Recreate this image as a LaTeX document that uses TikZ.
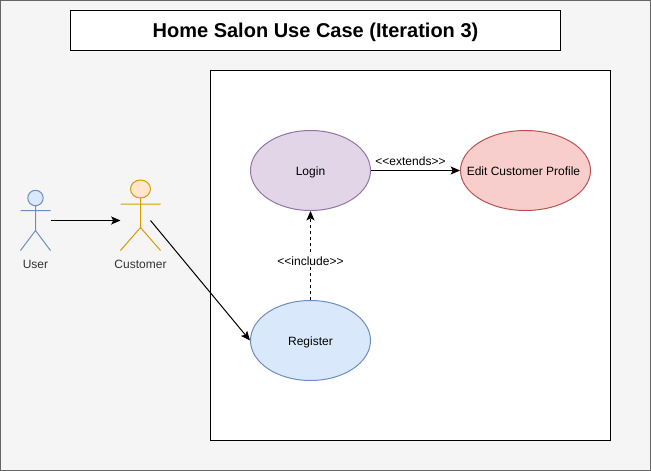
\documentclass[tikz,border=0pt]{standalone}
\usepackage{fontspec}
\setmainfont{Liberation Sans}
\usetikzlibrary{arrows.meta,shapes.geometric}
\definecolor{bgc}{HTML}{F5F5F5}
\definecolor{bgl}{HTML}{666666}
\definecolor{purpF}{HTML}{E1D5E7}
\definecolor{purpL}{HTML}{9673A6}
\definecolor{redF}{HTML}{F8CECC}
\definecolor{redL}{HTML}{B85450}
\definecolor{blueF}{HTML}{DAE8FC}
\definecolor{blueL}{HTML}{6C8EBF}
\definecolor{orF}{HTML}{FFE6CC}
\definecolor{orL}{HTML}{D79B00}
\definecolor{txt}{HTML}{333333}
\newcommand{\uctext}[2][-3.4pt]{\raisebox{#1}[0pt][0pt]{\makebox[0pt]{#2}}}
\tikzset{x=0.75pt,y=-0.75pt,
 uc/.style={ellipse,draw,minimum width=90pt,minimum height=60pt,inner sep=0pt,line width=0.75pt,font=\fontsize{9}{11}\selectfont},
 frame/.style={draw=black,fill=white,line width=0.75pt,inner sep=0pt},
 lbl/.style={font=\fontsize{9}{11}\selectfont,inner sep=1pt},
 actorlbl/.style={font=\fontsize{9}{11}\selectfont,text=txt,inner sep=0pt},
 conn/.style={-{Stealth[length=7pt,width=6pt,inset=1.5pt]},line width=0.75pt,black},
 actorline/.style={line width=0.75pt}}
\begin{document}
\begin{tikzpicture}
\useasboundingbox (0,0) rectangle (651,471);
\draw[fill=bgc,draw=bgl,line width=0.75pt] (0.5,0.5) rectangle (650.5,470.5);
\node[frame,minimum width=367.5pt,minimum height=30pt,font=\bfseries\fontsize{15}{18}\selectfont] (title) at (315.5,30.5) {\uctext[-5.3pt]{Home Salon Use Case (Iteration 3)}};
\node[frame,minimum width=300pt,minimum height=277.5pt] (sys) at (410.5,255.5) {};
\node[uc,draw=purpL,fill=purpF] (login) at (310.5,170.5) {\uctext{Login}};
\node[uc,draw=redL,fill=redF,minimum width=97.5pt] (edit) at (525.5,170.5) {\uctext{\hspace{-3pt}Edit Customer Profile}};
\node[uc,draw=blueL,fill=blueF] (register) at (310.5,340.5) {\uctext{Register}};
% User actor
\draw[actorline,draw=blueL,fill=blueF] (35.5,198) circle[radius=7.7];
\draw[actorline,draw=blueL] (35.5,205.7) -- (35.5,230.5) (20.5,210.5) -- (50.5,210.5) (20.5,250.5) -- (35.5,230.5) -- (50.5,250.5);
\node[actorlbl] (userlabel) at (35.5,264) {User};
% Customer actor
\draw[actorline,draw=orL,fill=orF] (140.5,189) ellipse[x radius=10,y radius=9];
\draw[actorline,draw=orL] (140.5,198) -- (140.5,227.5) (120.5,204) -- (160.5,204) (120.5,250.5) -- (140.5,227.5) -- (160.5,250.5);
\node[actorlbl] (custlabel) at (140.5,264) {Customer};
% Connector ends on the actors
\coordinate (userR) at (50.5,220.5);
\coordinate (custL) at (120.5,220.5);
\coordinate (custR) at (150.5,220.5);
\draw[conn] (userR) -- (custL);
\draw[conn] (custR) -- (register.west);
\draw[conn] (login.east) -- node[lbl,above,yshift=2.5pt,xshift=-3.75pt] (extlabel) {<{}<extends>{}>} (edit.west);
\draw[conn,dash pattern=on 2.25pt off 2.25pt] (register.north) -- node[lbl,fill=white,pos=0.44] (inclabel) {<{}<include>{}>} (login.south);
\end{tikzpicture}
\end{document}
